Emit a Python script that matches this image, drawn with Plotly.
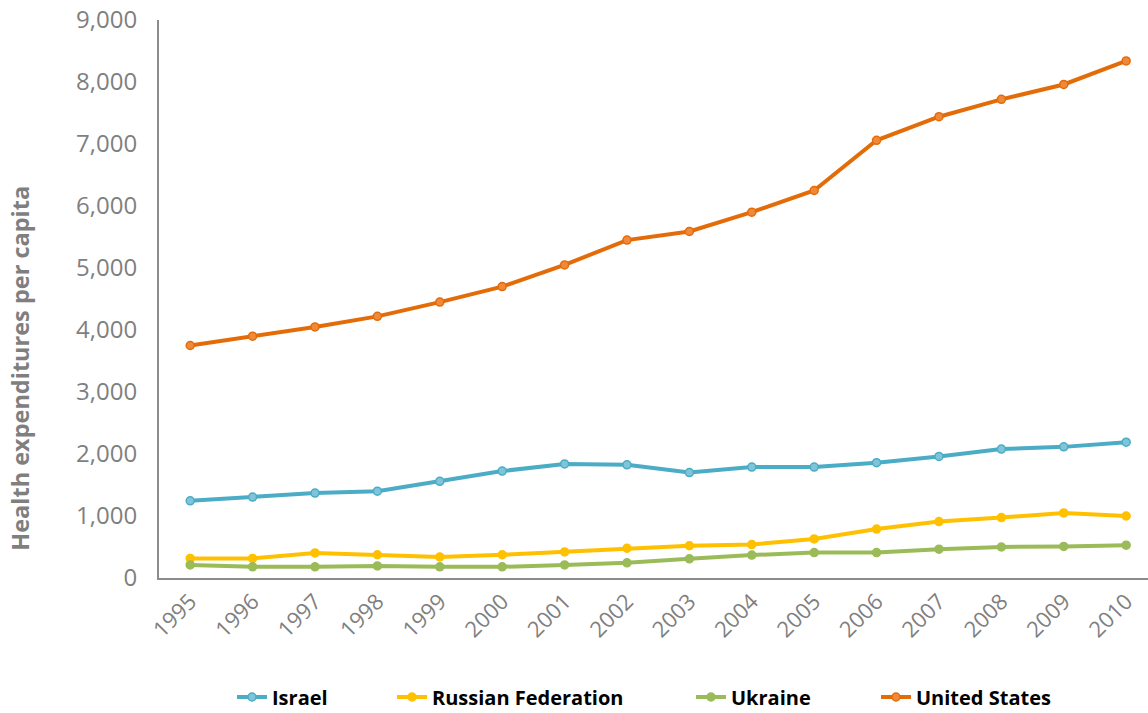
import plotly.graph_objects as go

years = list(range(1995, 2011))

israel = [1245, 1305, 1370, 1400, 1560, 1725, 1840, 1825, 1700, 1790, 1790, 1860, 1960, 2080, 2115, 2190]
russia = [315, 315, 405, 375, 340, 375, 420, 480, 520, 540, 630, 790, 910, 975, 1050, 1000]
ukraine = [210, 180, 180, 195, 180, 180, 210, 245, 310, 370, 410, 410, 465, 500, 510, 530]
united_states = [3750, 3900, 4050, 4220, 4450, 4700, 5050, 5450, 5590, 5900, 6250, 7060, 7440, 7720, 7960, 8340]

series = [
    ("Israel", israel, "#4BACC6", "#7FC4D8"),
    ("Russian Federation", russia, "#FFC000", "#FFC000"),
    ("Ukraine", ukraine, "#9BBB59", "#9BBB59"),
    ("United States", united_states, "#E36C09", "#F08A3A"),
]

font_family = "Open Sans, Liberation Sans, sans-serif"
tick_color = "#7F7F7F"

# plot area geometry in pixels (used to place the legend entries)
plot_left, plot_width, plot_height = 159, 989, 558
legend_left_px = [232, 392, 691, 876]
legend_center_below_axis_px = 119
legend_ids = ["legend", "legend2", "legend3", "legend4"]

fig = go.Figure()
for (name, vals, color, fill), lid in zip(series, legend_ids):
    fig.add_trace(go.Scatter(
        x=years, y=vals, name=f"<b>{name}</b>", mode="lines+markers",
        line=dict(color=color, width=4),
        marker=dict(symbol="circle", size=8, color=fill, line=dict(color=color, width=1.5)),
        legend=lid,
    ))

legend_layout = {}
for lid, px in zip(legend_ids, legend_left_px):
    legend_layout[lid] = dict(
        orientation="h", x=(px - plot_left) / plot_width, xanchor="left",
        y=-legend_center_below_axis_px / plot_height, yanchor="middle",
        font=dict(size=20, color="#000000", family=font_family),
        borderwidth=0, bgcolor="rgba(0,0,0,0)",
    )

fig.update_layout(
    width=1148, height=713,
    margin=dict(l=plot_left, r=0, t=20, b=135, autoexpand=False),
    plot_bgcolor="white", paper_bgcolor="white",
    font=dict(family=font_family, color=tick_color),
    showlegend=True,
    xaxis=dict(
        range=[1994.5, 2010.35], tickmode="array", tickvals=years,
        ticktext=[str(y) for y in years], tickangle=-45,
        tickfont=dict(size=22, color=tick_color),
        showgrid=False, zeroline=False, showline=True,
        linecolor="#8C8C8C", linewidth=2, ticks="",
    ),
    yaxis=dict(
        range=[0, 9000], tickmode="linear", tick0=0, dtick=1000,
        tickformat=",d", tickfont=dict(size=24, color=tick_color),
        showgrid=False, zeroline=False, showline=True,
        linecolor="#8C8C8C", linewidth=2, ticks="",
        ticklabelstandoff=15,
    ),
    annotations=[dict(
        text="<b>Health expenditures per capita</b>",
        xref="paper", yref="paper",
        x=-0.1405, y=0.375, xanchor="center", yanchor="middle",
        textangle=-90, showarrow=False,
        font=dict(size=23.5, color=tick_color, family=font_family),
    )],
    **legend_layout,
)

fig.write_html("out.html")
